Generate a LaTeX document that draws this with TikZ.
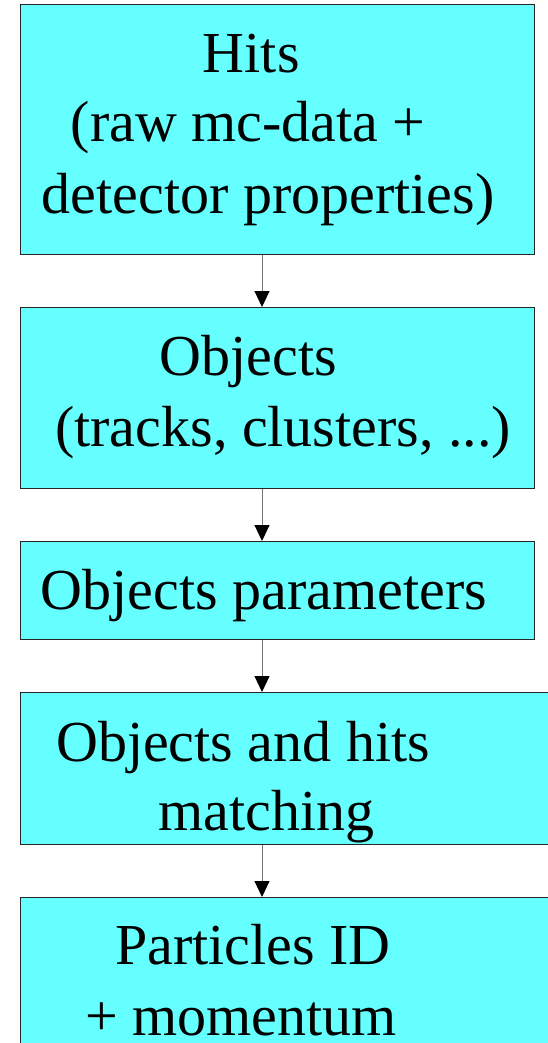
\documentclass[tikz,border=0pt]{standalone}
\usepackage{fontspec}
\setmainfont{Liberation Serif}
\usetikzlibrary{arrows.meta}
\definecolor{boxcyan}{RGB}{102,255,255}
\begin{document}
\begin{tikzpicture}[x=1pt,y=-1pt,
  flowbox/.style={draw=black!85,line width=1pt,fill=boxcyan,rectangle,anchor=north west,inner sep=0pt},
  txt/.style={anchor=base west,inner sep=0pt,font=\fontsize{58}{70}\selectfont},
  arr/.style={draw=black!55,line width=1pt,-{Triangle[width=15pt,length=16pt,color=black]}}]
\useasboundingbox (0,0) rectangle (548,1043);
\clip (0,0) rectangle (548,1043);
\node[flowbox,minimum width=514pt,minimum height=249pt] (b1) at (19.5,4.5) {};
\node[flowbox,minimum width=514pt,minimum height=181pt] (b2) at (19.5,307) {};
\node[flowbox,minimum width=514pt,minimum height=97.5pt] (b3) at (19.5,541) {};
\node[flowbox,minimum width=540pt,minimum height=152pt] (b4) at (19.5,692) {};
\node[flowbox,minimum width=540pt,minimum height=170pt] (b5) at (19.5,897) {};
\node[txt] (t1a) at (202.7,72.7) {Hits};
\node[txt] (t1b) at (70.7,141.7) {(raw mc-data +};
\node[txt] (t1c) at (41.7,213.3) {detector properties)};
\node[txt] (t2a) at (159.3,375) {Objects};
\node[txt] (t2b) at (55,446) {(tracks, clusters, ...)};
\node[txt] (t3a) at (40.7,609.3) {Objects parameters};
\node[txt] (t4a) at (56,761) {Objects and hits};
\node[txt] (t4b) at (158.3,830) {matching};
\node[txt] (t5a) at (115,964.3) {Particles ID};
\node[txt] (t5b) at (85,1035) {+ momentum};
\coordinate (ax) at (262,0);
\draw[arr] (b1.south -| ax) -- (b2.north -| ax);
\draw[arr] (b2.south -| ax) -- (b3.north -| ax);
\draw[arr] (b3.south -| ax) -- (b4.north -| ax);
\draw[arr] (b4.south -| ax) -- (b5.north -| ax);
\end{tikzpicture}
\end{document}
